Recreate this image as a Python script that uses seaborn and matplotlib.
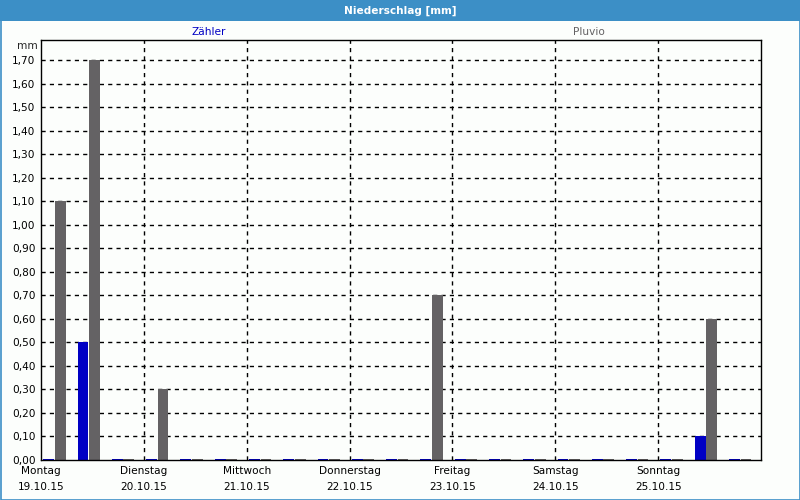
import numpy as np
import pandas as pd
import matplotlib
matplotlib.use("Agg")
import matplotlib.pyplot as plt
from matplotlib.patches import Rectangle
from matplotlib.ticker import FuncFormatter
import seaborn as sns

# ---- data -------------------------------------------------------------
days = ["Montag", "Dienstag", "Mittwoch", "Donnerstag", "Freitag", "Samstag", "Sonntag"]
dates = ["19.10.15", "20.10.15", "21.10.15", "22.10.15", "23.10.15", "24.10.15", "25.10.15"]
series = ["Zähler", "Pluvio"]
# three 8-hour slots per day, 21 slots in total (mm)
zaehler = [0.00, 0.50, 0.00, 0.00, 0.00, 0.00, 0.00, 0.00, 0.00, 0.00, 0.00,
           0.00, 0.00, 0.00, 0.00, 0.00, 0.00, 0.00, 0.00, 0.10, 0.00]
pluvio = [1.10, 1.70, 0.00, 0.30, 0.00, 0.00, 0.00, 0.00, 0.00, 0.00, 0.00,
          0.70, 0.00, 0.00, 0.00, 0.00, 0.00, 0.00, 0.00, 0.60, 0.00]
y_ticks = [round(0.1 * i, 2) for i in range(18)]

# ---- style ------------------------------------------------------------
BLUE = "#0000c4"
GRAY = "#646264"
BG = "#fcfefc"
FRAME = "#3c8fc6"

sns.set_theme(style="white")
plt.rcParams["font.family"] = ["DejaVu Sans"]

n = len(zaehler)
slots = list(range(n))
stub = 0.0045  # zero values are shown as a 1-px stub as in the reference
df = pd.DataFrame({
    "slot": slots * 2,
    "series": [series[0]] * n + [series[1]] * n,
    "value": list(np.maximum(zaehler, stub)) + list(np.maximum(pluvio, stub)),
})

fig = plt.figure(figsize=(8, 5), dpi=100, facecolor=BG)
ax = fig.add_axes([41 / 800, 40 / 500, 720 / 800, 420 / 500])
ax.set_facecolor(BG)

sns.barplot(data=df, x="slot", y="value", hue="series", hue_order=series,
            order=slots, palette=[BLUE, GRAY], width=0.67, gap=0.06,
            linewidth=0, saturation=1, legend=False, ax=ax, errorbar=None,
            zorder=2)

xmin = -0.393
ax.set_xlim(xmin, xmin + n)
ax.set_ylim(0, 1.785)

# day boundaries
day_pos = [xmin + 3 * d for d in range(len(days))]
ax.set_xticks(day_pos)
ax.set_xticklabels([f"{d}\n{t}" for d, t in zip(days, dates)], fontsize=7.6,
                   color="black", linespacing=1.75)
ax.tick_params(axis="x", direction="out", length=3, width=1, color="black", pad=1)
ax.set_yticks(y_ticks)
ax.yaxis.set_major_formatter(FuncFormatter(lambda v, p: f"{v:.2f}".replace(".", ",")))
ax.tick_params(axis="y", length=0, labelsize=7.6, labelcolor="black", pad=4)
ax.set_xlabel("")
ax.set_ylabel("")

for yv in y_ticks[1:]:
    ax.axhline(yv, color="black", lw=1, ls=(0, (3, 3)), zorder=0.5)
for xv in day_pos[1:]:
    ax.axvline(xv, color="black", lw=1, ls=(0, (3, 3)), zorder=0.5)

for sp in ax.spines.values():
    sp.set_visible(True)
    sp.set_color("black")
    sp.set_linewidth(1)
    sp.set_zorder(3)

# texts
fig.text(27 / 800, 1 - 46 / 500, "mm", fontsize=7.6, ha="center", va="center")
fig.text(209 / 800, 1 - 32 / 500, series[0], color=BLUE, fontsize=7.6, ha="center", va="center")
fig.text(589 / 800, 1 - 32 / 500, series[1], color=GRAY, fontsize=7.6, ha="center", va="center")

# frame and title bar
fig.patches.append(Rectangle((0, 1 - 21 / 500), 1, 21 / 500, transform=fig.transFigure,
                             facecolor=FRAME, edgecolor="none", zorder=0))
fig.patches.append(Rectangle((0.5 / 800, 0.5 / 500), 799 / 800, 499 / 500, transform=fig.transFigure,
                             facecolor="none", edgecolor=FRAME, lw=1.2, zorder=0))
fig.text(0.5, 1 - 10.5 / 500, "Niederschlag [mm]", color="white", fontsize=7.6,
         fontweight="bold", ha="center", va="center")

fig.savefig("out.png", dpi=100, facecolor=BG)
